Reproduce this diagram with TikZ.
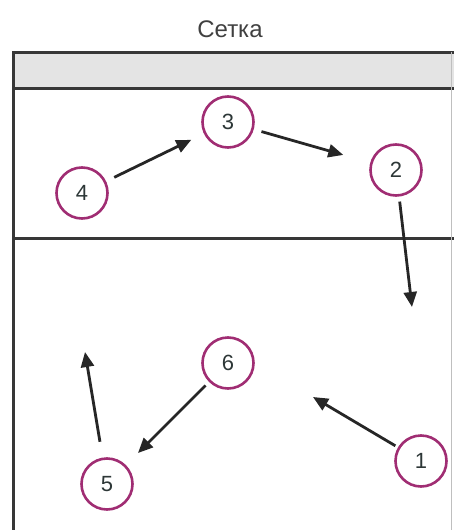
\documentclass[tikz,border=0pt]{standalone}
\usepackage{fontspec}
\setmainfont{Liberation Sans}
\usetikzlibrary{arrows.meta}
\definecolor{ring}{RGB}{160,45,115}
\definecolor{digit}{RGB}{45,55,55}
\definecolor{frameline}{RGB}{55,55,55}
\definecolor{band}{RGB}{228,228,228}
\begin{document}
\begin{tikzpicture}[x=1pt,y=-1pt,
  player/.style={circle,draw=ring,line width=2.6pt,minimum size=51pt,inner sep=0pt,
    font=\fontsize{22}{22}\selectfont,text=digit},
  move/.style={line width=2.8pt,draw=black!85,-{Triangle[length=15pt,width=13pt]}},
  frm/.style={line width=3pt,draw=frameline}]
\useasboundingbox (0,0) rectangle (454,530);
% title
\node[font=\fontsize{24}{24}\selectfont,text=black!75] (title) at (230,29) {Сетка};
% frame
\fill[band] (13,52) rectangle (454,88);
\draw[frm] (454,52) -- (13,52) -- (13,530);
\draw[frm] (13,88) -- (454,88);
\draw[frm] (13,238) -- (454,238);
\draw[line width=1pt,draw=black!25] (451,52) -- (451,530);
% players
\node[player] (n4) at (82,193) {4};
\node[player] (n3) at (228,122) {3};
\node[player] (n2) at (396,170) {2};
\node[player] (n6) at (228,363) {6};
\node[player] (n5) at (107,484) {5};
\node[player] (n1) at (421,461) {1};
% free ends
\coordinate (e2) at (412,307);
\coordinate (e1) at (313,397);
\coordinate (e5) at (85,352);
% moves
\draw[move,shorten <=9pt,shorten >=14pt] (n4) -- (n3);
\draw[move,shorten <=8pt,shorten >=28pt] (n3) -- (n2);
\draw[move,shorten <=5pt] (n2) -- (e2);
\draw[move,shorten <=3pt] (n1) -- (e1);
\draw[move,shorten <=5pt,shorten >=17pt] (n6) -- (n5);
\draw[move,shorten <=16pt] (n5) -- (e5);
\end{tikzpicture}
\end{document}
